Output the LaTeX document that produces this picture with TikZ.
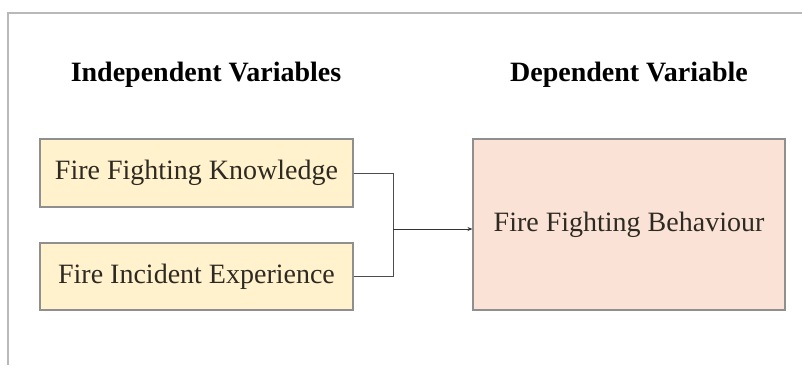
\documentclass[tikz,border=0pt]{standalone}
\usepackage{fontspec}
\setmainfont{Liberation Serif}
\usepackage{xcolor}
\usetikzlibrary{positioning,arrows.meta,calc}

\definecolor{ivfill}{HTML}{FFF2CC}
\definecolor{dvfill}{HTML}{FAE3D6}
\definecolor{boxline}{HTML}{8F8F8F}
\definecolor{inktext}{HTML}{2E2A22}

\begin{document}
\begin{tikzpicture}[x=1pt, y=-1pt, >={Stealth[length=5pt,width=4pt]},
  every node/.style={font=\rmfamily\fontsize{28}{33}\selectfont, text=inktext},
  varbox/.style={draw=boxline, line width=1.1pt, inner sep=0pt},
  heading/.style={font=\rmfamily\bfseries\fontsize{28}{33}\selectfont, text=black}]
\useasboundingbox (0,0) rectangle (802,365);
% outer frame (only top and left edge visible)
\draw[gray!55, line width=1.6pt] (8,365) -- (8,13) -- (802,13);

\node[heading] (ivtitle) at (206,75) {Independent Variables};
\node[heading] (dvtitle) at (629,75) {Dependent Variable};

\node[varbox, fill=ivfill, minimum width=313pt, minimum height=68pt] (know) at (196.5,173) {Fire Fighting Knowledge};
\node[varbox, fill=ivfill, minimum width=313pt, minimum height=67pt] (exp) at (196.5,276.5) {Fire Incident Experience};
\node[varbox, fill=dvfill, minimum width=312pt, minimum height=171pt] (behav) at (629,224.5) {Fire Fighting Behaviour};

\coordinate (join) at (393,229);
\draw[black!70, line width=0.9pt] (know.east) -| (join);
\draw[black!70, line width=0.9pt] (exp.east) -| (join);
\draw[black!80, line width=0.9pt, ->] (join) -- (behav.west |- join);
\end{tikzpicture}
\end{document}
